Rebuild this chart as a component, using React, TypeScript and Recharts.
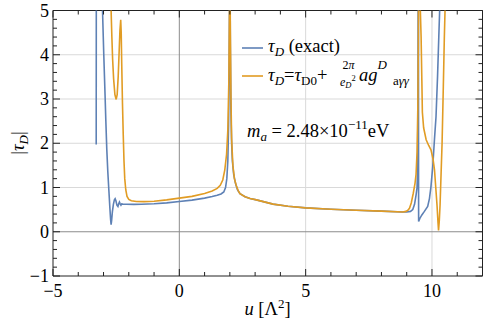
import React from 'react';
import { LineChart, Line, XAxis, YAxis, ReferenceLine } from 'recharts';

// ---- data ----
const blueU = [
  -3.29, -3.285,
  -3.055, -3.04, -2.99, -2.94, -2.91, -2.87, -2.83, -2.79, -2.75, -2.72, -2.70, -2.68, -2.65, -2.61, -2.57, -2.54,
  -2.51, -2.47, -2.43, -2.40, -2.37, -2.34, -2.31, -2.28, -2.24, -2.1, -1.8, -1.5, -1.0, -0.5, 0, 0.5, 1.0, 1.3,
  1.5, 1.65, 1.76, 1.83, 1.88, 1.92, 1.95, 1.97, 1.985, 1.995, 2.005, 2.02, 2.04, 2.07, 2.1, 2.15, 2.22, 2.3, 2.4,
  2.6, 2.8, 3.05, 3.4, 3.71, 4.3, 5.0, 6.0, 7.0, 8.0, 8.84, 9.0, 9.15, 9.24, 9.31, 9.37, 9.41, 9.43, 9.445, 9.455,
  9.465, 9.468, 9.472, 9.52, 9.6, 9.7, 9.83, 9.9, 9.96, 10.03, 10.1, 10.16, 10.22, 10.27, 10.31, 10.34,
];
const blueTau = [
  1.97, 6,
  6, 5.0, 4.0, 3.1, 2.53, 1.85, 1.35, 0.95, 0.55, 0.28, 0.16, 0.25, 0.45, 0.62, 0.72, 0.745,
  0.70, 0.6, 0.57, 0.63, 0.67, 0.63, 0.60, 0.63, 0.625, 0.62, 0.618, 0.62, 0.632, 0.652, 0.685, 0.715, 0.76, 0.795,
  0.825, 0.855, 0.9, 1.0, 1.2, 1.6, 2.4, 3.5, 5.0, 6, 6, 4.2, 2.8, 2.0, 1.6, 1.3, 1.1, 0.95, 0.86,
  0.79, 0.75, 0.72, 0.67, 0.625, 0.575, 0.54, 0.51, 0.485, 0.465, 0.445, 0.445, 0.46, 0.50, 0.62, 0.83, 1.0, 1.4, 3.0, 6,
  6, 2.0, 0.23, 0.3, 0.38, 0.46, 0.57, 0.75, 1.02, 1.47, 2.1, 2.6, 3.5, 4.4, 5.1, 6,
];
const orangeU = [
  -2.72, -2.70, -2.67, -2.64, -2.60, -2.55, -2.50, -2.46, -2.42, -2.38, -2.35, -2.32, -2.30, -2.28, -2.25, -2.22,
  -2.19, -2.16, -2.12, -2.07, -2.0, -1.9, -1.7, -1.4, -1.0, -0.5, 0, 0.5, 1.0, 1.3, 1.5, 1.62, 1.72, 1.8, 1.87, 1.92,
  1.96, 1.985, 1.995, 2.005, 2.02, 2.045, 2.07, 2.12, 2.18, 2.25, 2.33, 2.4, 2.6, 2.8, 3.05, 3.4, 3.71, 4.3, 5.0,
  6.0, 7.0, 8.0, 8.84, 8.97, 9.05, 9.11, 9.18, 9.26, 9.33, 9.37, 9.41, 9.44, 9.46, 9.475, 9.5, 9.53, 9.57, 9.6,
  9.62, 9.67, 9.77, 9.87, 9.96, 10.04, 10.1, 10.15, 10.2, 10.24, 10.26, 10.29, 10.32, 10.36, 10.4, 10.45, 10.49,
  10.53, 10.56,
];
const orangeTau = [
  6, 5.0, 4.4, 3.9, 3.45, 3.1, 2.99, 3.1, 3.5, 4.1, 4.55, 4.79, 4.5, 3.8, 2.9, 2.2,
  1.6, 1.2, 0.95, 0.8, 0.73, 0.7, 0.685, 0.68, 0.69, 0.72, 0.76, 0.80, 0.865, 0.92, 0.98, 1.05, 1.17, 1.4, 1.75, 2.3,
  3.4, 5.0, 6, 6, 4.5, 3.0, 2.1, 1.5, 1.2, 1.05, 0.93, 0.86, 0.79, 0.75, 0.72, 0.67, 0.625, 0.575, 0.54,
  0.51, 0.485, 0.465, 0.445, 0.46, 0.49, 0.53, 0.65, 0.87, 1.1, 1.3, 1.8, 2.8, 4.2, 6, 6, 5.2, 4.4, 3.4,
  2.7, 2.35, 2.08, 1.95, 1.85, 1.65, 1.4, 1.0, 0.6, 0.2, 0.03, 0.25, 0.6, 1.3, 2.0, 3.3, 4.4,
  5.3, 6,
];
const xTicks = [-5, -4, -3, -2, -1, 0, 1, 2, 3, 4, 5, 6, 7, 8, 9, 10, 11, 12];
const xLabelTicks = [-5, 0, 5, 10];
const yTicks = [
  -1, -0.8, -0.6, -0.4, -0.2, 0, 0.2, 0.4, 0.6, 0.8, 1, 1.2, 1.4, 1.6, 1.8, 2, 2.2, 2.4, 2.6, 2.8, 3,
  3.2, 3.4, 3.6, 3.8, 4, 4.2, 4.4, 4.6, 4.8, 5,
];
const yLabelTicks = [-1, 0, 1, 2, 3, 4, 5];
const lightGridY = [1, 2, 3, 4];
const lightGridX = [5, 10];

const blueData = blueU.map((u, i) => ({ u, tau: blueTau[i] }));
const orangeData = orangeU.map((u, i) => ({ u, tau: orangeTau[i] }));

// ---- layout ----
const W = 488;
const H = 330;
const MARGIN = { top: 10.5, right: 5.5, left: 0, bottom: 0 };
const YAXIS_W = 53;
const XAXIS_H = 54;
const PLOT_TOP = MARGIN.top;
const PLOT_RIGHT = W - MARGIN.right;
const FRAME = '#222';
const BLUE = '#5E81B5';
const ORANGE = '#E19C24';
const FONT = "'Liberation Serif', 'DejaVu Serif', serif";
const serif = { fontFamily: FONT };

const fmt = (v: number) => (v < 0 ? '\u2212' + Math.abs(v) : String(v));

function XTick(props: any) {
  const { x, y, payload } = props;
  const v = payload.value;
  const major = xLabelTicks.includes(v);
  const len = major ? 7 : 4;
  return (
    <g>
      <line x1={x} x2={x} y1={y} y2={y - len} stroke={FRAME} strokeWidth={1} />
      <line x1={x} x2={x} y1={PLOT_TOP} y2={PLOT_TOP + len} stroke={FRAME} strokeWidth={1} />
      {major && (
        <text x={x} y={y + 21} textAnchor="middle" style={serif} fontSize={18} fill="#000">
          {fmt(v)}
        </text>
      )}
    </g>
  );
}

function YTick(props: any) {
  const { x, y, payload } = props;
  const v = payload.value;
  const major = yLabelTicks.some((t) => Math.abs(t - v) < 1e-6);
  const len = major ? 7 : 4;
  return (
    <g>
      <line x1={x} x2={x + len} y1={y} y2={y} stroke={FRAME} strokeWidth={1} />
      <line x1={PLOT_RIGHT} x2={PLOT_RIGHT - len} y1={y} y2={y} stroke={FRAME} strokeWidth={1} />
      {major && (
        <text x={x - 4} y={y + 6} textAnchor="end" style={serif} fontSize={18} fill="#000">
          {fmt(Math.round(v))}
        </text>
      )}
    </g>
  );
}

export default function App() {
  return (
    <div style={{ position: 'absolute', left: 0, top: 0, width: W, height: H, background: '#fff' }}>
      <LineChart width={W} height={H} margin={MARGIN}>
        <XAxis
          dataKey="u"
          type="number"
          domain={[-5, 12]}
          allowDataOverflow
          ticks={xTicks}
          interval={0}
          tickSize={0}
          tickMargin={0}
          tickLine={false}
          height={XAXIS_H}
          axisLine={{ stroke: FRAME, strokeWidth: 1 }}
          tick={<XTick />}
        />
        <YAxis
          type="number"
          domain={[-1, 5]}
          allowDataOverflow
          ticks={yTicks}
          interval={0}
          tickSize={0}
          tickMargin={0}
          tickLine={false}
          width={YAXIS_W}
          axisLine={{ stroke: FRAME, strokeWidth: 1 }}
          tick={<YTick />}
        />
        {lightGridY.map((v) => (
          <ReferenceLine key={'gy' + v} y={v} stroke="#d9d9d9" strokeWidth={1} />
        ))}
        {lightGridX.map((v) => (
          <ReferenceLine key={'gx' + v} x={v} stroke="#d9d9d9" strokeWidth={1} />
        ))}
        <ReferenceLine y={0} stroke="#8c8c8c" strokeWidth={1} />
        <ReferenceLine x={0} stroke="#8c8c8c" strokeWidth={1} />
        <ReferenceLine y={5} stroke={FRAME} strokeWidth={1} />
        <ReferenceLine x={12} stroke={FRAME} strokeWidth={1} />
        <Line
          data={blueData}
          dataKey="tau"
          type="linear"
          stroke={BLUE}
          strokeWidth={1.6}
          dot={false}
          isAnimationActive={false}
        />
        <Line
          data={orangeData}
          dataKey="tau"
          type="linear"
          stroke={ORANGE}
          strokeWidth={1.6}
          dot={false}
          isAnimationActive={false}
        />
      </LineChart>
      <svg
        width={W}
        height={H}
        style={{ position: 'absolute', left: 0, top: 0, pointerEvents: 'none', fontFamily: FONT }}
      >
        {/* legend row 1 */}
        <line x1={242} x2={263} y1={48} y2={48} stroke={BLUE} strokeWidth={1.6} />
        <text x={268} y={52} fontSize={18.5} fill="#000" style={serif}>
          <tspan fontStyle="italic">τ</tspan>
          <tspan fontStyle="italic" fontSize={13} dy={4}>D</tspan>
          <tspan dy={-4}> (exact)</tspan>
        </text>
        {/* legend row 2 */}
        <line x1={242} x2={263} y1={76} y2={76} stroke={ORANGE} strokeWidth={1.6} />
        <text x={268} y={81} fontSize={18.5} fill="#000" style={serif}>
          <tspan fontStyle="italic">τ</tspan>
          <tspan fontStyle="italic" fontSize={13} dy={4}>D</tspan>
          <tspan dy={-4}>=</tspan>
          <tspan fontStyle="italic">τ</tspan>
          <tspan fontSize={13} dy={4}>D0</tspan>
          <tspan dy={-4}>+</tspan>
        </text>
        <text x={348.5} y={68.5} fontSize={12} textAnchor="middle" fill="#000" style={serif}>
          2<tspan fontStyle="italic">π</tspan>
        </text>
        <text x={340} y={85.5} fontSize={12} fill="#000" style={serif}>
          <tspan fontStyle="italic">e</tspan>
          <tspan fontStyle="italic" fontSize={8.5} dy={2}>D</tspan>
          <tspan fontSize={8.5} dy={-7}>2</tspan>
        </text>
        <text x={359} y={81} fontSize={18.5} fill="#000" style={serif}>
          <tspan fontStyle="italic">ag</tspan>
          <tspan fontStyle="italic" fontSize={13} dy={-12} dx={0}>D</tspan>
          <tspan fontSize={13} dy={16} dx={6}>a</tspan>
          <tspan fontSize={13} fontStyle="italic">γγ</tspan>
        </text>
        {/* annotation */}
        <text x={247} y={137} fontSize={18.5} fill="#000" style={serif}>
          <tspan fontStyle="italic">m</tspan>
          <tspan fontStyle="italic" fontSize={13} dy={4}>a</tspan>
          <tspan dy={-4}> = 2.48×10</tspan>
          <tspan fontSize={13} dy={-8}>−11</tspan>
          <tspan dy={8}>eV</tspan>
        </text>
        {/* axis labels */}
        <text x={267.5} y={315} fontSize={18.5} textAnchor="middle" fill="#000" style={serif}>
          <tspan fontStyle="italic">u</tspan>
          <tspan> [Λ</tspan>
          <tspan fontSize={13} dy={-7}>2</tspan>
          <tspan dy={7}>]</tspan>
        </text>
        <text transform="translate(24,143) rotate(-90)" fontSize={18.5} textAnchor="middle" fill="#000" style={serif}>
          <tspan>|</tspan>
          <tspan fontStyle="italic">τ</tspan>
          <tspan fontStyle="italic" fontSize={13} dy={4}>D</tspan>
          <tspan dy={-4}>|</tspan>
        </text>
      </svg>
    </div>
  );
}
